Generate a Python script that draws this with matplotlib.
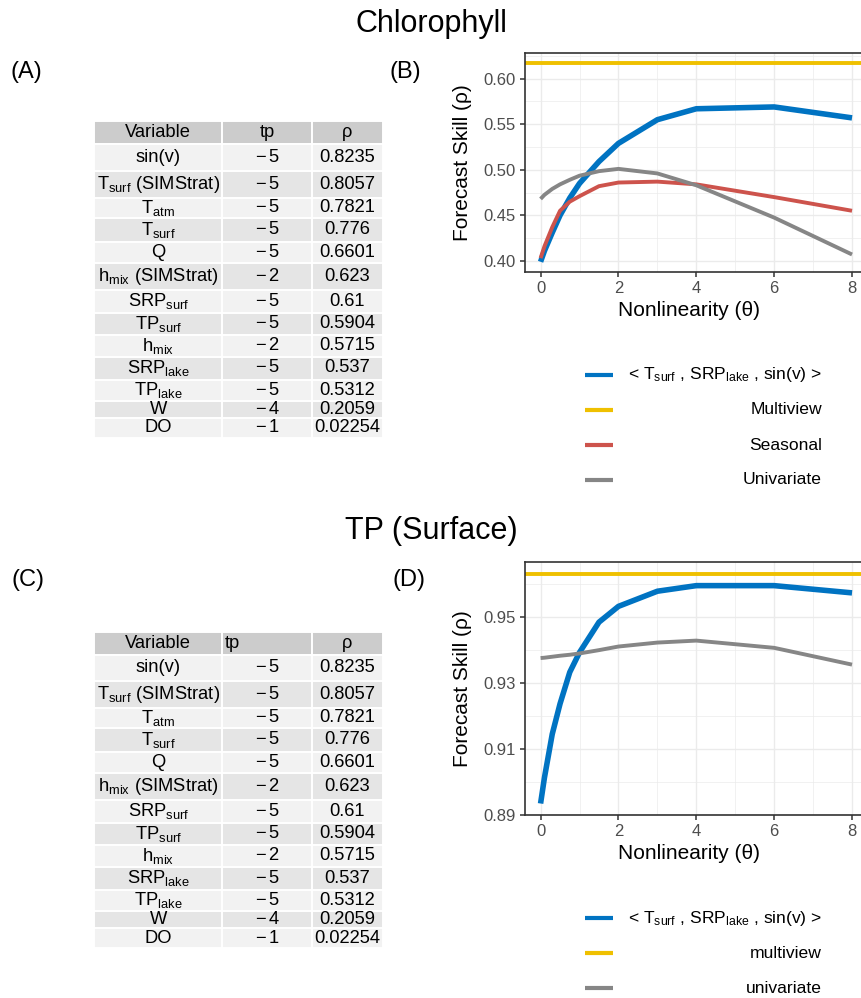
import numpy as np
import matplotlib
matplotlib.use('Agg')
import matplotlib.pyplot as plt
from matplotlib.patches import Rectangle

plt.rcParams['font.family'] = ['Liberation Sans', 'DejaVu Sans']
plt.rcParams['mathtext.fontset'] = 'custom'
plt.rcParams['mathtext.rm'] = 'Liberation Sans'
plt.rcParams['mathtext.it'] = 'Liberation Sans:italic'
plt.rcParams['mathtext.bf'] = 'Liberation Sans:bold'
plt.rcParams['mathtext.default'] = 'regular'

# ---------------- data ----------------
table_header = ['Variable', 'tp', 'ρ']
table_vars = ['sin(v)', 'T$_{surf}$ (SIMStrat)', 'T$_{atm}$', 'T$_{surf}$', 'Q',
              'h$_{mix}$ (SIMStrat)', 'SRP$_{surf}$', 'TP$_{surf}$', 'h$_{mix}$',
              'SRP$_{lake}$', 'TP$_{lake}$', 'W', 'DO']
table_tp = [-5, -5, -5, -5, -5, -2, -5, -5, -2, -5, -5, -4, -1]
table_rho = [0.8235, 0.8057, 0.7821, 0.776, 0.6601, 0.623, 0.61, 0.5904,
             0.5715, 0.537, 0.5312, 0.2059, 0.02254]

theta = [0, 0.1, 0.3, 0.5, 0.75, 1, 1.5, 2, 3, 4, 6, 8]

chl_combo = [0.399, 0.411, 0.431, 0.450, 0.469, 0.485, 0.509, 0.529, 0.555, 0.567, 0.569, 0.557]
chl_multiview = 0.617
chl_seasonal = [0.403, 0.416, 0.437, 0.455, 0.465, 0.471, 0.482, 0.486, 0.487, 0.484, 0.470, 0.455]
chl_univariate = [0.468, 0.4725, 0.479, 0.484, 0.489, 0.4935, 0.4985, 0.501, 0.496, 0.483, 0.4475, 0.407]

tp_combo = [0.8934, 0.9013, 0.9145, 0.9237, 0.9333, 0.9393, 0.9485, 0.9533, 0.9579, 0.9596, 0.9596, 0.9574]
tp_multiview = 0.9632
tp_univariate = [0.9376, 0.9377, 0.9380, 0.9383, 0.9386, 0.9390, 0.9400, 0.9411, 0.9423, 0.9429, 0.9407, 0.9356]

x_ticks = [0, 2, 4, 6, 8]
chl_yticks = [0.40, 0.45, 0.50, 0.55, 0.60]
tp_yticks = [0.89, 0.91, 0.93, 0.95]

combo_label = '< T$_{surf}$ , SRP$_{lake}$ , sin(v) >'
chl_labels = [combo_label, 'Multiview', 'Seasonal', 'Univariate']
tp_labels = [combo_label, 'multiview', 'univariate']

# ---------------- style ----------------
BLUE, YELLOW, RED, GRAY = '#0073C2', '#EFC000', '#CD534C', '#868686'
W, H = 862, 998
fig = plt.figure(figsize=(W / 100, H / 100), dpi=100)


def px_axes(left, top, right, bottom):
    return fig.add_axes([left / W, 1 - bottom / H, (right - left) / W, (bottom - top) / H])


col_w = [128.5, 89.5, 71.0]
row_h = [23, 26.7, 26.5, 20.5, 23.5, 21.5, 26.5, 23.5, 21.5, 22, 23, 21.5, 17, 19.7]


def draw_table(top, tp_header_left=False):
    left = 94
    tw, th = sum(col_w), sum(row_h)
    tax = px_axes(left, top, left + tw, top + th)
    tax.set_xlim(0, tw)
    tax.set_ylim(th, 0)
    tax.axis('off')
    xs = np.concatenate([[0], np.cumsum(col_w)])
    ys = np.concatenate([[0], np.cumsum(row_h)])
    rows = [table_header] + [[v, f'$-\\,{abs(t)}$', str(r)]
                             for v, t, r in zip(table_vars, table_tp, table_rho)]
    for i, row in enumerate(rows):
        if i == 0:
            fc = '#CCCCCC'
        else:
            fc = '#F2F2F2' if (i % 2 == 1) else '#E5E5E5'
        for j, txt in enumerate(row):
            tax.add_patch(Rectangle((xs[j], ys[i]), col_w[j], row_h[i],
                                    facecolor=fc, edgecolor='white', lw=1.4))
            cy = ys[i] + row_h[i] / 2
            if i == 0 and j == 1 and tp_header_left:
                tax.text(xs[j] + 2, cy, txt, ha='left', va='center', fontsize=13.2)
            else:
                tax.text(xs[j] + col_w[j] / 2, cy, txt, ha='center', va='center',
                         fontsize=13.2)


def style_axes(ax, yticks, ymin, ymax):
    rng = ymax - ymin
    ax.set_ylim(ymin - 0.05 * rng, ymax + 0.05 * rng)
    ax.set_xlim(-0.4, 8.4)
    ax.set_xticks(x_ticks)
    ax.set_xticks([t + 1 for t in x_ticks[:-1]], minor=True)
    ax.set_yticks(yticks)
    step = yticks[1] - yticks[0]
    ax.set_yticks([t + step / 2 for t in yticks], minor=True)
    ax.set_yticklabels([f'{t:.2f}' for t in yticks])
    ax.grid(which='major', color='#EBEBEB', lw=1.0)
    ax.grid(which='minor', color='#EBEBEB', lw=0.5)
    ax.set_axisbelow(True)
    for s in ax.spines.values():
        s.set_color('#333333')
        s.set_linewidth(1.2)
    ax.tick_params(which='major', length=3.8, width=1.1, color='#333333',
                   labelsize=12, labelcolor='#4D4D4D', pad=3)
    ax.tick_params(which='minor', length=0)
    ax.set_xlabel('Nonlinearity (θ)', fontsize=15)
    ax.set_ylabel('Forecast Skill (ρ)', fontsize=15)
    ax.yaxis.label.set_va('center')


def draw_legend(first_y, labels, colors):
    n = len(labels)
    sp = 35
    lax = px_axes(585, first_y - sp / 2, 822, first_y - sp / 2 + n * sp)
    lax.set_xlim(0, 822 - 585)
    lax.set_ylim(n - 0.5, -0.5)
    lax.axis('off')
    rows = np.arange(n)
    lax.hlines(rows, 0, 28, colors=colors, lw=3.0, capstyle='butt')
    for r, lab in zip(rows, labels):
        lax.text(822 - 585, r, lab, ha='right', va='center', fontsize=12.6)


# ---------------- titles & panel labels ----------------
fig.text(431 / W, 1 - 24 / H, 'Chlorophyll', ha='center', va='center', fontsize=22)
fig.text(431 / W, 1 - 531 / H, 'TP (Surface)', ha='center', va='center', fontsize=22)
for lab, x, y in [('(A)', 11, 72), ('(B)', 390, 72), ('(C)', 12, 580), ('(D)', 393, 580)]:
    fig.text(x / W, 1 - y / H, lab, ha='left', va='center', fontsize=17)

# ---------------- tables ----------------
draw_table(121.3, tp_header_left=False)
draw_table(631.5, tp_header_left=True)

# ---------------- panel B ----------------
axB = px_axes(525, 53.3, 867.6, 271.7)
axB.plot(theta, chl_combo, color=BLUE, lw=4.0, solid_capstyle='butt', solid_joinstyle='round')
axB.axhline(chl_multiview, color=YELLOW, lw=2.8)
axB.plot(theta, chl_seasonal, color=RED, lw=2.8, solid_capstyle='butt', solid_joinstyle='round')
axB.plot(theta, chl_univariate, color=GRAY, lw=2.8, solid_capstyle='butt', solid_joinstyle='round')
allB = chl_combo + chl_seasonal + chl_univariate + [chl_multiview]
style_axes(axB, chl_yticks, min(allB), max(allB))
axB.xaxis.set_label_coords(0.48, -0.135)
axB.yaxis.set_label_coords(-0.181, 0.5)

# ---------------- panel D ----------------
axD = px_axes(525, 562.3, 867.6, 815)
axD.plot(theta, tp_combo, color=BLUE, lw=4.0, solid_capstyle='butt', solid_joinstyle='round')
axD.axhline(tp_multiview, color=YELLOW, lw=2.8)
axD.plot(theta, tp_univariate, color=GRAY, lw=2.8, solid_capstyle='butt', solid_joinstyle='round')
allD = tp_combo + tp_univariate + [tp_multiview]
style_axes(axD, tp_yticks, min(allD), max(allD))
axD.xaxis.set_label_coords(0.48, -0.115)
axD.yaxis.set_label_coords(-0.181, 0.5)

# ---------------- legends ----------------
draw_legend(375, chl_labels, [BLUE, YELLOW, RED, GRAY])
draw_legend(918, tp_labels, [BLUE, YELLOW, GRAY])

fig.savefig('out.png', dpi=100)
